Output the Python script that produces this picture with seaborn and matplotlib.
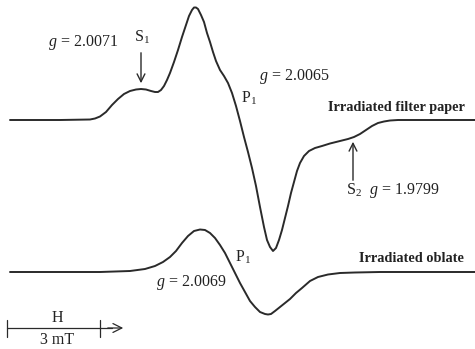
import matplotlib
matplotlib.use("Agg")
import matplotlib.pyplot as plt
import seaborn as sns
import pandas as pd

# EPR spectra (x = field position, y = signal, screen units)
paper_x = [10, 60, 90, 95, 100, 106, 112, 118, 124, 130, 136, 141, 146, 151, 155, 158,
           161, 164, 167, 170, 174, 178, 182, 186, 189, 192, 194, 196, 198, 201, 204,
           207, 210, 213, 216, 220, 224, 228, 232, 236, 240, 244, 248, 252, 256, 260,
           264, 267, 270, 273, 276, 279, 282, 285, 288, 291, 294, 297, 300, 304, 309,
           315, 322, 330, 340, 348, 354, 360, 366, 372, 378, 384, 390, 398, 410, 475]
paper_y = [120, 120, 119.5, 118.5, 116.5, 112, 105, 99, 94, 91, 89.5, 89, 89.5, 91, 92, 92,
           90, 86, 80, 73, 62, 50, 37, 25, 16, 10, 7.5, 7.5, 9, 15, 22,
           33, 42, 52, 61, 70, 76, 83, 93, 106, 121, 137, 152, 168, 186, 207,
           227, 240, 247, 251, 248, 240, 230, 218, 206, 193, 182, 171, 163, 156, 151,
           148, 146, 143.5, 141, 139, 137, 134, 130, 126, 123, 121.5, 120.5, 120, 120, 120]

oblate_x = [10, 100, 130, 145, 155, 163, 170, 176, 182, 188, 194, 200, 205, 210, 215,
            220, 225, 230, 235, 240, 245, 250, 255, 260, 265, 268, 271, 275, 280, 285,
            290, 296, 302, 310, 318, 328, 340, 355, 380, 475]
oblate_y = [272, 272, 271, 269, 266, 262, 257, 251, 243, 236, 231, 229.5, 230, 233, 238,
            245, 253, 263, 273, 283, 292, 301, 307, 312, 314, 314.5, 314, 311, 307, 303,
            299, 293, 288, 281, 277, 274.5, 273, 272.5, 272, 272]

spectra = pd.concat([
    pd.DataFrame({"x": paper_x, "y": paper_y, "sample": "Irradiated filter paper"}),
    pd.DataFrame({"x": oblate_x, "y": oblate_y, "sample": "Irradiated oblate"}),
])

sns.set_theme(style="white")
plt.rcParams["font.family"] = ["Liberation Serif", "DejaVu Serif"]
plt.rcParams["mathtext.fontset"] = "custom"
plt.rcParams["mathtext.rm"] = "Liberation Serif"
plt.rcParams["mathtext.it"] = "Liberation Serif:italic"

fig = plt.figure(figsize=(4.75, 3.49), dpi=100)
ax = fig.add_axes([0, 0, 1, 1])
line_col = "#2a2a2a"

sns.lineplot(data=spectra, x="x", y="y", units="sample", estimator=None, sort=False,
             color=line_col, linewidth=1.4, ax=ax, legend=False)
for ln in ax.lines:
    ln.set_solid_joinstyle("round")

ax.set_xlim(0, 475)
ax.set_ylim(349, 0)
ax.axis("off")

fs = 11.5
txt = dict(color="#222222", fontsize=fs, va="center")
bold = dict(color="#222222", fontsize=10.3, va="center", fontweight="bold")

# filter paper labels
ax.text(48, 43, r"$g$ = 2.0071", ha="left", **txt)
ax.text(134, 37, r"S$_1$", ha="left", **txt)
ax.annotate("", xy=(141, 86), xytext=(141, 50),
            arrowprops=dict(arrowstyle="->", color=line_col, lw=1.0,
                            mutation_scale=14))
ax.text(259, 77, r"$g$ = 2.0065", ha="left", **txt)
ax.text(241, 98, r"P$_1$", ha="left", **txt)
ax.text(328, 108, "Irradiated filter paper", ha="left", **bold)
ax.annotate("", xy=(353, 139), xytext=(353, 183),
            arrowprops=dict(arrowstyle="->", color=line_col, lw=1.0,
                            mutation_scale=14))
ax.text(346, 191, r"S$_2$  $g$ = 1.9799", ha="left", **txt)

# oblate labels
ax.text(235, 257, r"P$_1$", ha="left", **txt)
ax.text(156, 283, r"$g$ = 2.0069", ha="left", **txt)
ax.text(359, 258, "Irradiated oblate", ha="left", **bold)

# field scale bar
ax.plot([7, 112], [328, 328], color=line_col, lw=0.9)
ax.plot([7, 7], [320, 337], color=line_col, lw=0.9)
ax.plot([100, 100], [320, 337], color=line_col, lw=0.9)
ax.annotate("", xy=(126, 328), xytext=(105, 328),
            arrowprops=dict(arrowstyle="->", color=line_col, lw=0.9,
                            mutation_scale=16))
ax.text(57, 318, "H", ha="center", **txt)
ax.text(57, 340, "3 mT", ha="center", **txt)

fig.savefig("out.png", dpi=100)
